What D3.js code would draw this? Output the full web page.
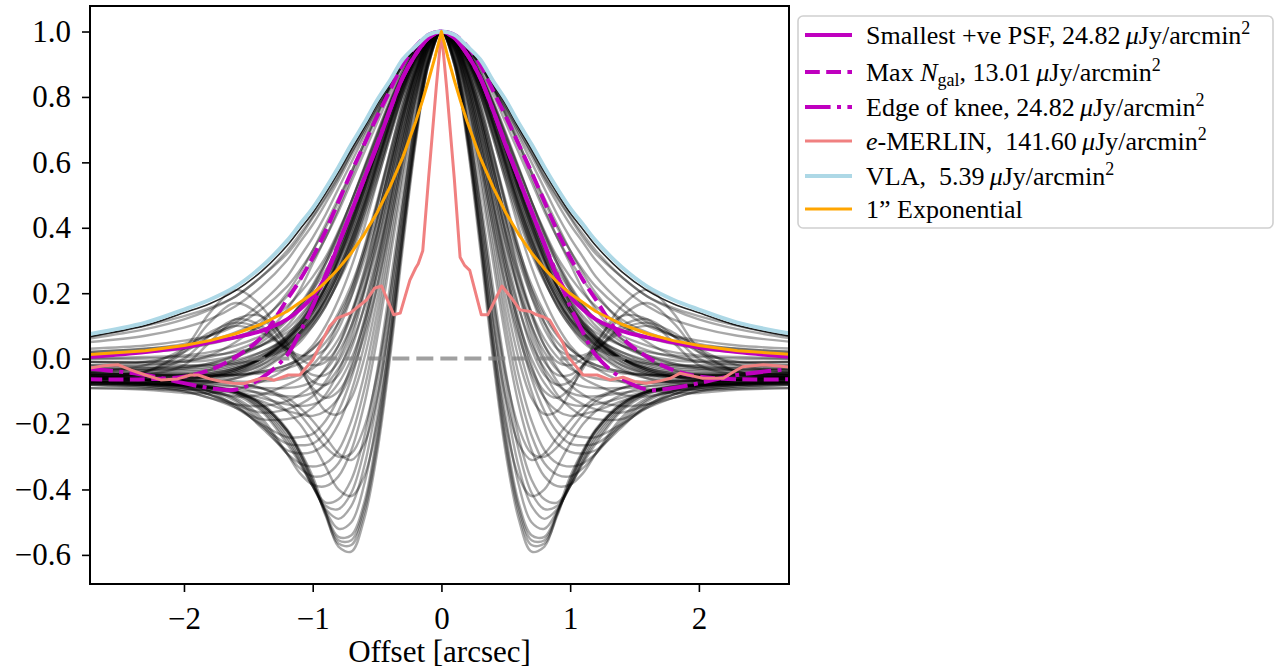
<!DOCTYPE html>
<html><head><meta charset="utf-8">
<script src="https://cdn.jsdelivr.net/npm/d3@7"></script>
<style>
body{margin:0;background:#fff;}
svg{display:block;}
text{font-family:"Liberation Serif","Times New Roman",serif;fill:#000;}
</style>
</head><body>
<svg id="c" width="1275" height="672"></svg>
<script>
// ---------------- DATA ----------------
// half-profile offsets (arcsec); profiles are symmetric about 0
const halfOffsets = [0,0.1,0.2,0.3,0.4,0.5,0.6,0.7,0.8,0.9,1.0,1.1,1.2,1.4,1.6,1.8,2.0,2.3,2.75];

// family of PSF profiles (grey curves), values at halfOffsets
const psfFamily = [
 [1,0.90,0.66,0.34,0.00,-0.29,-0.49,-0.59,-0.575,-0.47,-0.36,-0.28,-0.215,-0.135,-0.10,-0.088,-0.082,-0.077,-0.072],
 [1,0.90,0.67,0.36,0.02,-0.27,-0.47,-0.57,-0.565,-0.48,-0.37,-0.285,-0.22,-0.14,-0.10,-0.088,-0.082,-0.077,-0.072],
 [1,0.905,0.685,0.375,0.04,-0.25,-0.455,-0.555,-0.555,-0.475,-0.375,-0.29,-0.22,-0.14,-0.10,-0.095,-0.095,-0.092,-0.09],
 [1,0.91,0.69,0.39,0.06,-0.23,-0.44,-0.54,-0.545,-0.47,-0.38,-0.29,-0.22,-0.14,-0.10,-0.085,-0.08,-0.075,-0.07],
 [1,0.915,0.705,0.415,0.10,-0.18,-0.385,-0.50,-0.52,-0.465,-0.385,-0.30,-0.23,-0.145,-0.102,-0.088,-0.08,-0.075,-0.07],
 [1,0.92,0.72,0.44,0.14,-0.13,-0.33,-0.45,-0.49,-0.46,-0.39,-0.31,-0.24,-0.15,-0.105,-0.09,-0.08,-0.075,-0.07],
 [1,0.925,0.735,0.47,0.18,-0.08,-0.28,-0.41,-0.46,-0.45,-0.39,-0.315,-0.25,-0.155,-0.105,-0.085,-0.075,-0.065,-0.058],
 [1,0.93,0.75,0.50,0.22,-0.04,-0.24,-0.37,-0.43,-0.44,-0.39,-0.32,-0.26,-0.16,-0.11,-0.09,-0.085,-0.08,-0.075],
 [1,0.94,0.78,0.55,0.30,0.06,-0.14,-0.28,-0.36,-0.39,-0.385,-0.35,-0.29,-0.18,-0.12,-0.10,-0.09,-0.08,-0.075],
 [1,0.945,0.79,0.575,0.335,0.10,-0.095,-0.235,-0.32,-0.355,-0.36,-0.335,-0.29,-0.19,-0.125,-0.095,-0.08,-0.065,-0.055],
 [1,0.95,0.80,0.60,0.37,0.14,-0.05,-0.19,-0.28,-0.32,-0.33,-0.32,-0.29,-0.20,-0.13,-0.10,-0.09,-0.08,-0.075],
 [1,0.955,0.83,0.64,0.43,0.22,0.04,-0.10,-0.20,-0.26,-0.285,-0.29,-0.28,-0.21,-0.14,-0.11,-0.09,-0.08,-0.075],
 [1,0.96,0.84,0.66,0.46,0.26,0.08,-0.06,-0.16,-0.225,-0.26,-0.265,-0.26,-0.205,-0.145,-0.10,-0.075,-0.06,-0.05],
 [1,0.96,0.85,0.68,0.49,0.30,0.12,-0.02,-0.12,-0.19,-0.23,-0.24,-0.24,-0.20,-0.15,-0.11,-0.095,-0.085,-0.08],
 [1,0.965,0.87,0.72,0.54,0.36,0.20,0.06,-0.04,-0.11,-0.15,-0.175,-0.185,-0.185,-0.15,-0.12,-0.10,-0.085,-0.08],
 [1,0.97,0.875,0.735,0.565,0.39,0.235,0.10,0.0,-0.07,-0.115,-0.14,-0.155,-0.165,-0.14,-0.11,-0.085,-0.065,-0.05],
 [1,0.97,0.88,0.75,0.59,0.42,0.27,0.14,0.04,-0.03,-0.08,-0.11,-0.13,-0.145,-0.14,-0.12,-0.10,-0.09,-0.08],
 [1,0.975,0.90,0.78,0.63,0.48,0.34,0.21,0.11,0.03,-0.02,-0.06,-0.08,-0.11,-0.115,-0.10,-0.085,-0.07,-0.06],
 [1,0.98,0.92,0.81,0.68,0.54,0.40,0.28,0.18,0.10,0.04,0.00,-0.03,-0.07,-0.095,-0.105,-0.105,-0.095,-0.09],
 [1,0.98,0.93,0.84,0.72,0.59,0.46,0.34,0.24,0.16,0.10,0.05,0.02,-0.03,-0.06,-0.075,-0.08,-0.08,-0.075],
 [1,0.985,0.94,0.86,0.76,0.64,0.52,0.41,0.31,0.22,0.15,0.10,0.06,0.00,-0.035,-0.055,-0.065,-0.07,-0.065],
 [1,0.90,0.68,0.38,0.06,-0.20,-0.36,-0.42,-0.40,-0.33,-0.26,-0.20,-0.16,-0.11,-0.085,-0.075,-0.07,-0.068,-0.065],
 [1,0.91,0.70,0.42,0.12,-0.12,-0.26,-0.31,-0.29,-0.24,-0.19,-0.15,-0.12,-0.09,-0.075,-0.07,-0.068,-0.065,-0.06],
 [1,0.92,0.73,0.47,0.19,-0.05,-0.21,-0.29,-0.30,-0.27,-0.22,-0.17,-0.13,-0.09,-0.075,-0.07,-0.068,-0.065,-0.06],
 [1,0.965,0.87,0.735,0.58,0.43,0.30,0.19,0.11,0.05,0.01,-0.015,-0.03,-0.045,-0.05,-0.05,-0.05,-0.048,-0.045],
 [1,0.97,0.88,0.75,0.60,0.45,0.32,0.21,0.13,0.07,0.03,0.0,-0.02,-0.04,-0.05,-0.055,-0.055,-0.05,-0.045],
 [1,0.96,0.86,0.71,0.545,0.385,0.25,0.14,0.06,0.005,-0.03,-0.05,-0.06,-0.07,-0.07,-0.068,-0.065,-0.06,-0.055],
 [1,0.972,0.89,0.765,0.62,0.47,0.335,0.225,0.14,0.075,0.03,0.0,-0.02,-0.04,-0.05,-0.05,-0.048,-0.045,-0.04],
 [1,0.955,0.845,0.69,0.515,0.35,0.21,0.10,0.02,-0.035,-0.07,-0.085,-0.09,-0.09,-0.085,-0.08,-0.075,-0.07,-0.065],
 [1,0.95,0.83,0.66,0.475,0.30,0.155,0.045,-0.03,-0.08,-0.105,-0.115,-0.115,-0.105,-0.095,-0.085,-0.08,-0.075,-0.07],
 [1,0.945,0.815,0.635,0.44,0.26,0.11,0.0,-0.075,-0.12,-0.14,-0.145,-0.14,-0.12,-0.10,-0.09,-0.082,-0.076,-0.07],
 [1,0.94,0.80,0.61,0.405,0.22,0.07,-0.045,-0.12,-0.16,-0.175,-0.17,-0.16,-0.13,-0.105,-0.09,-0.082,-0.076,-0.07],
 [1,0.975,0.905,0.80,0.675,0.545,0.425,0.32,0.235,0.165,0.11,0.07,0.04,0.0,-0.025,-0.04,-0.045,-0.045,-0.04],
 [1,0.977,0.91,0.81,0.69,0.565,0.445,0.34,0.25,0.175,0.12,0.08,0.05,0.01,-0.015,-0.03,-0.035,-0.035,-0.03],
 [1,0.978,0.915,0.82,0.70,0.575,0.455,0.35,0.26,0.185,0.125,0.08,0.045,0.0,-0.03,-0.05,-0.06,-0.06,-0.055],
 [1,0.98,0.92,0.825,0.71,0.585,0.465,0.355,0.26,0.18,0.12,0.075,0.04,-0.01,-0.04,-0.055,-0.06,-0.06,-0.055],
 [1,0.98,0.92,0.83,0.715,0.59,0.47,0.365,0.275,0.20,0.14,0.095,0.06,0.02,-0.005,-0.02,-0.025,-0.025,-0.02],
 [1,0.982,0.925,0.835,0.725,0.605,0.485,0.375,0.28,0.20,0.135,0.085,0.05,0.0,-0.03,-0.045,-0.05,-0.05,-0.045],
 [1,0.983,0.93,0.845,0.735,0.615,0.50,0.39,0.295,0.215,0.15,0.10,0.065,0.02,-0.01,-0.025,-0.03,-0.03,-0.03],
 [1,0.984,0.935,0.85,0.745,0.63,0.515,0.405,0.305,0.22,0.15,0.095,0.055,0.0,-0.035,-0.055,-0.065,-0.065,-0.06],
 [1,0.985,0.937,0.855,0.755,0.64,0.525,0.42,0.325,0.245,0.18,0.13,0.09,0.04,0.01,-0.005,-0.01,-0.01,-0.01],
 [1,0.986,0.94,0.86,0.76,0.65,0.535,0.425,0.325,0.24,0.165,0.105,0.06,0.0,-0.035,-0.05,-0.055,-0.055,-0.05],
 [1,0.98,0.93,0.85,0.75,0.64,0.53,0.42,0.32,0.24,0.17,0.11,0.07,0.01,-0.02,-0.035,-0.04,-0.04,-0.035],
 [1,0.985,0.94,0.87,0.78,0.67,0.56,0.45,0.35,0.26,0.18,0.12,0.07,0.00,-0.04,-0.055,-0.06,-0.055,-0.05],
 [1,0.98,0.92,0.83,0.72,0.60,0.48,0.37,0.27,0.19,0.12,0.07,0.03,-0.02,-0.045,-0.055,-0.055,-0.05,-0.045],
 [1,0.985,0.945,0.88,0.79,0.69,0.585,0.48,0.38,0.29,0.21,0.15,0.10,0.04,0.005,-0.015,-0.025,-0.03,-0.03],
 [1,0.975,0.91,0.81,0.69,0.56,0.44,0.33,0.24,0.16,0.10,0.06,0.03,0.00,-0.015,-0.02,-0.02,-0.015,-0.01],
 [1,0.98,0.925,0.84,0.73,0.61,0.50,0.39,0.30,0.22,0.16,0.11,0.08,0.04,0.02,0.01,0.005,0.00,0.00],
 [1,0.98,0.925,0.845,0.74,0.625,0.51,0.40,0.30,0.21,0.14,0.08,0.04,-0.02,-0.05,-0.065,-0.07,-0.07,-0.065],
 [1,0.985,0.935,0.86,0.765,0.655,0.545,0.44,0.34,0.25,0.17,0.11,0.06,-0.01,-0.045,-0.06,-0.065,-0.065,-0.06],
 [1,0.975,0.915,0.825,0.715,0.595,0.475,0.36,0.26,0.18,0.11,0.06,0.02,-0.035,-0.06,-0.07,-0.07,-0.065,-0.06],
 [1,0.98,0.93,0.85,0.75,0.635,0.52,0.41,0.31,0.22,0.15,0.095,0.055,0.0,-0.03,-0.045,-0.05,-0.05,-0.045],
 [1,0.985,0.94,0.865,0.77,0.665,0.56,0.46,0.37,0.29,0.22,0.16,0.12,0.06,0.025,0.005,-0.005,-0.01,-0.01],
 [1,0.99,0.945,0.875,0.785,0.685,0.58,0.48,0.385,0.30,0.225,0.165,0.115,0.05,0.01,-0.015,-0.03,-0.035,-0.035],
 [1,0.98,0.93,0.85,0.75,0.64,0.53,0.43,0.34,0.27,0.21,0.16,0.12,0.07,0.04,0.02,0.01,0.005,0.00],
 [1,0.985,0.94,0.87,0.78,0.68,0.58,0.48,0.39,0.31,0.25,0.20,0.16,0.10,0.065,0.045,0.03,0.02,0.015],
 [1,0.99,0.95,0.89,0.81,0.72,0.63,0.54,0.45,0.37,0.30,0.24,0.19,0.12,0.08,0.055,0.04,0.03,0.02],
 [1,0.99,0.95,0.90,0.83,0.75,0.66,0.57,0.48,0.40,0.33,0.27,0.22,0.15,0.10,0.07,0.055,0.04,0.03],
 [1,0.99,0.95,0.91,0.845,0.775,0.70,0.63,0.555,0.49,0.43,0.37,0.32,0.25,0.19,0.155,0.13,0.10,0.065],
 [1,0.99,0.95,0.905,0.835,0.76,0.68,0.60,0.52,0.44,0.37,0.31,0.25,0.17,0.11,0.07,0.045,0.03,0.02],
 [1,0.99,0.95,0.90,0.83,0.745,0.66,0.57,0.49,0.41,0.33,0.26,0.20,0.11,0.05,0.01,-0.01,-0.02,-0.025],
 [1,0.99,0.95,0.90,0.825,0.74,0.65,0.555,0.46,0.37,0.29,0.21,0.15,0.06,0.00,-0.035,-0.05,-0.055,-0.05],
 [1,0.96,0.85,0.68,0.48,0.28,0.10,-0.03,-0.10,-0.12,-0.09,-0.03,0.04,0.16,0.21,0.14,0.03,-0.04,-0.06],
 [1,0.965,0.865,0.71,0.52,0.33,0.16,0.03,-0.05,-0.08,-0.07,-0.02,0.03,0.13,0.17,0.11,0.02,-0.04,-0.055],
 [1,0.97,0.88,0.74,0.56,0.38,0.21,0.08,-0.01,-0.05,-0.05,-0.02,0.02,0.10,0.12,0.07,0.00,-0.04,-0.05],
 [1,0.95,0.82,0.62,0.40,0.18,0.00,-0.12,-0.17,-0.16,-0.10,-0.02,0.05,0.13,0.12,0.05,-0.02,-0.05,-0.06],
 [1,0.97,0.90,0.78,0.63,0.47,0.32,0.19,0.09,0.03,0.01,0.01,0.03,0.08,0.10,0.07,0.02,-0.01,-0.02],
 [1,0.975,0.89,0.76,0.59,0.42,0.26,0.13,0.04,-0.01,-0.02,0.00,0.03,0.09,0.11,0.08,0.03,-0.02,-0.04],
 [1,0.99,0.95,0.90,0.83,0.765,0.69,0.62,0.545,0.475,0.41,0.355,0.30,0.22,0.16,0.12,0.095,0.07,0.05],
 [1,0.99,0.95,0.905,0.835,0.77,0.70,0.63,0.56,0.495,0.435,0.38,0.33,0.25,0.19,0.15,0.12,0.09,0.06]
];
// outermost grey profile, lying just inside the VLA curve
const outerPSF = [1,0.99,0.952,0.908,0.84,0.778,0.707,0.64,0.57,0.505,0.445,0.395,0.345,0.266,0.208,0.168,0.14,0.101,0.066];

const smallestPSF = [1,0.98,0.93,0.86,0.76,0.65,0.55,0.45,0.35,0.25,0.19,0.15,0.12,0.085,0.065,0.05,0.035,0.02,0.004];
const maxNgal     = [1,0.99,0.955,0.90,0.82,0.74,0.655,0.57,0.48,0.39,0.31,0.24,0.18,0.065,0.005,-0.035,-0.055,-0.063,-0.063];
const edgeOfKnee  = [1,0.98,0.93,0.86,0.76,0.655,0.55,0.45,0.35,0.255,0.16,0.08,0.01,-0.06,-0.095,-0.09,-0.075,-0.05,-0.03];
const vla         = [1,0.99,0.955,0.915,0.85,0.79,0.72,0.655,0.585,0.52,0.46,0.41,0.36,0.28,0.22,0.18,0.15,0.11,0.074];

const expOffsets  = [0,0.05,0.1,0.15,0.2,0.3,0.4,0.5,0.6,0.7,0.8,0.9,1.0,1.2,1.4,1.6,1.8,2.0,2.3,2.75];
const exponential = [1,0.922,0.851,0.785,0.724,0.616,0.525,0.446,0.380,0.323,0.275,0.234,0.199,0.144,0.105,0.076,0.055,0.040,0.024,0.012];

const merlinOffsets = [-2.75,-2.62,-2.51,-2.41,-2.30,-2.18,-2.05,-1.95,-1.89,-1.80,-1.71,-1.62,-1.53,-1.42,-1.36,-1.30,-1.19,-1.10,-1.00,-0.87,-0.81,-0.71,-0.58,-0.52,-0.465,-0.42,-0.37,-0.32,-0.245,-0.20,-0.18,-0.145,-0.10,-0.04,0,
  0.04,0.10,0.145,0.18,0.22,0.31,0.36,0.47,0.535,0.61,0.69,0.74,0.79,0.84,0.945,0.985,1.10,1.21,1.31,1.41,1.50,1.59,1.70,1.78,1.85,1.94,2.03,2.19,2.27,2.34,2.50,2.60,2.75];
const merlinValues = [-0.03,-0.022,-0.019,-0.035,-0.05,-0.065,-0.062,-0.05,-0.05,-0.062,-0.07,-0.075,-0.076,-0.062,-0.06,-0.066,-0.05,-0.05,-0.004,0.098,0.124,0.139,0.18,0.215,0.222,0.18,0.134,0.139,0.24,0.277,0.29,0.33,0.55,0.83,1,
  0.83,0.55,0.31,0.285,0.27,0.134,0.134,0.222,0.19,0.149,0.144,0.134,0.128,0.118,0.047,0.006,-0.05,-0.05,-0.065,-0.057,-0.07,-0.075,-0.068,-0.06,-0.045,-0.052,-0.06,-0.06,-0.04,-0.025,-0.019,-0.022,-0.027];

const zeroLineExtent = [-1.5, 1.5];
const xTicks = [-2,-1,0,1,2];
const yTicks = [-0.6,-0.4,-0.2,0.0,0.2,0.4,0.6,0.8,1.0];
const xDomain = [-2.73, 2.70];
const yDomain = [-0.689, 1.078];

const legendLabels = [
  [["Smallest +ve PSF, 24.82\u2009"],["μ","i"],["Jy/arcmin"],["2","sup"]],
  [["Max "],["N","i"],["gal","sub"],[", 13.01\u2009"],["μ","i"],["Jy/arcmin"],["2","sup"]],
  [["Edge of knee, 24.82\u2009"],["μ","i"],["Jy/arcmin"],["2","sup"]],
  [["e","i"],["-MERLIN,\u00a0\u00a0141.60\u2009"],["μ","i"],["Jy/arcmin"],["2","sup"]],
  [["VLA,\u00a0\u00a05.39\u2009"],["μ","i"],["Jy/arcmin"],["2","sup"]],
  [["1” Exponential"]]
];

// ---------------- DRAW ----------------
const svg = d3.select("#c");
const L = 90, R = 789, T = 6, B = 584;
const x = d3.scaleLinear().domain(xDomain).range([L, R]);
const y = d3.scaleLinear().domain(yDomain).range([B, T]);

svg.append("defs").append("clipPath").attr("id","clip")
  .append("rect").attr("x",L).attr("y",T).attr("width",R-L).attr("height",B-T);
const plot = svg.append("g").attr("clip-path","url(#clip)");

function mirror(offs, vals){
  const pts = [];
  for (let i = offs.length-1; i > 0; i--) pts.push([-offs[i], vals[i]]);
  for (let i = 0; i < offs.length; i++) pts.push([offs[i], vals[i]]);
  return pts;
}
const smooth = d3.line().x(d=>x(d[0])).y(d=>y(d[1])).curve(d3.curveCatmullRom.alpha(0.5));
const straight = d3.line().x(d=>x(d[0])).y(d=>y(d[1]));

plot.append("g").selectAll("path").data(psfFamily).join("path")
  .attr("d", v => smooth(mirror(halfOffsets, v)))
  .attr("fill","none").attr("stroke","#000").attr("stroke-opacity",0.34).attr("stroke-width",2.4);
plot.append("path").attr("d", smooth(mirror(halfOffsets, outerPSF)))
  .attr("fill","none").attr("stroke","#000").attr("stroke-opacity",0.85).attr("stroke-width",1.6);

plot.append("line")
  .attr("x1",x(zeroLineExtent[0])).attr("x2",x(zeroLineExtent[1]))
  .attr("y1",y(0)).attr("y2",y(0))
  .attr("stroke","#808080").attr("stroke-opacity",0.75).attr("stroke-width",4)
  .attr("stroke-dasharray","17,7");

const series = [
  {vals: mirror(halfOffsets, smallestPSF), color:"#bf00bf", w:4, dash:null, gen:smooth},
  {vals: mirror(halfOffsets, maxNgal), color:"#bf00bf", w:4, dash:"14.8,6.4", gen:smooth},
  {vals: mirror(halfOffsets, edgeOfKnee), color:"#bf00bf", w:4, dash:"25.6,6.4,4,6.4", gen:smooth},
  {vals: merlinOffsets.map((o,i)=>[o, merlinValues[i]]), color:"#f08080", w:3, dash:null, gen:straight},
  {vals: mirror(halfOffsets, vla), color:"#add8e6", w:4, dash:null, gen:smooth},
  {vals: mirror(expOffsets, exponential), color:"#ffa500", w:3, dash:null, gen:straight}
];
series.forEach(s=>{
  plot.append("path").attr("d", s.gen(s.vals)).attr("fill","none")
    .attr("stroke", s.color).attr("stroke-width", s.w)
    .attr("stroke-dasharray", s.dash).attr("stroke-linejoin","round");
});

// axes
const xAxis = d3.axisBottom(x).tickValues(xTicks).tickSize(8).tickPadding(15).tickFormat(d3.format("d"));
const yAxis = d3.axisLeft(y).tickValues(yTicks).tickSize(8).tickPadding(11).tickFormat(d3.format(".1f"));
const gx = svg.append("g").attr("transform",`translate(0,${B})`).call(xAxis);
const gy = svg.append("g").attr("transform",`translate(${L},0)`).call(yAxis);
[gx, gy].forEach(g=>{
  g.select(".domain").remove();
  g.selectAll(".tick line").attr("stroke","#000").attr("stroke-width",1.6);
  g.selectAll(".tick text").attr("font-size",31).attr("font-family","Liberation Serif, serif").attr("fill","#000");
});
svg.append("rect").attr("x",L).attr("y",T).attr("width",R-L).attr("height",B-T)
  .attr("fill","none").attr("stroke","#000").attr("stroke-width",2);

svg.append("text").attr("x",(L+R)/2).attr("y",662).attr("text-anchor","middle")
  .attr("font-size",31).text("Offset [arcsec]");

// legend
const lg = svg.append("g");
lg.append("rect").attr("x",798).attr("y",16).attr("width",475).attr("height",212).attr("rx",5)
  .attr("fill","#fff").attr("stroke","#d0d0d0").attr("stroke-width",1.6);
const rowY = [35,72,107,141,176,209];
series.forEach((s,i)=>{
  lg.append("line").attr("x1",805).attr("x2",852).attr("y1",rowY[i]).attr("y2",rowY[i])
    .attr("stroke",s.color).attr("stroke-width",s.w).attr("stroke-dasharray",s.dash);
  const t = lg.append("text").attr("x",866).attr("y",rowY[i]+9).attr("font-size",26);
  let shift = 0;
  legendLabels[i].forEach(([str,kind])=>{
    const sp = t.append("tspan").text(str);
    let target = 0;
    if (kind==="i") sp.attr("font-style","italic");
    if (kind==="sub") { sp.attr("font-size",18); target = 5; }
    if (kind==="sup") { sp.attr("font-size",18); target = -10; }
    if (target !== shift) { sp.attr("dy", target - shift); shift = target; }
  });
});
</script>
</body></html>
